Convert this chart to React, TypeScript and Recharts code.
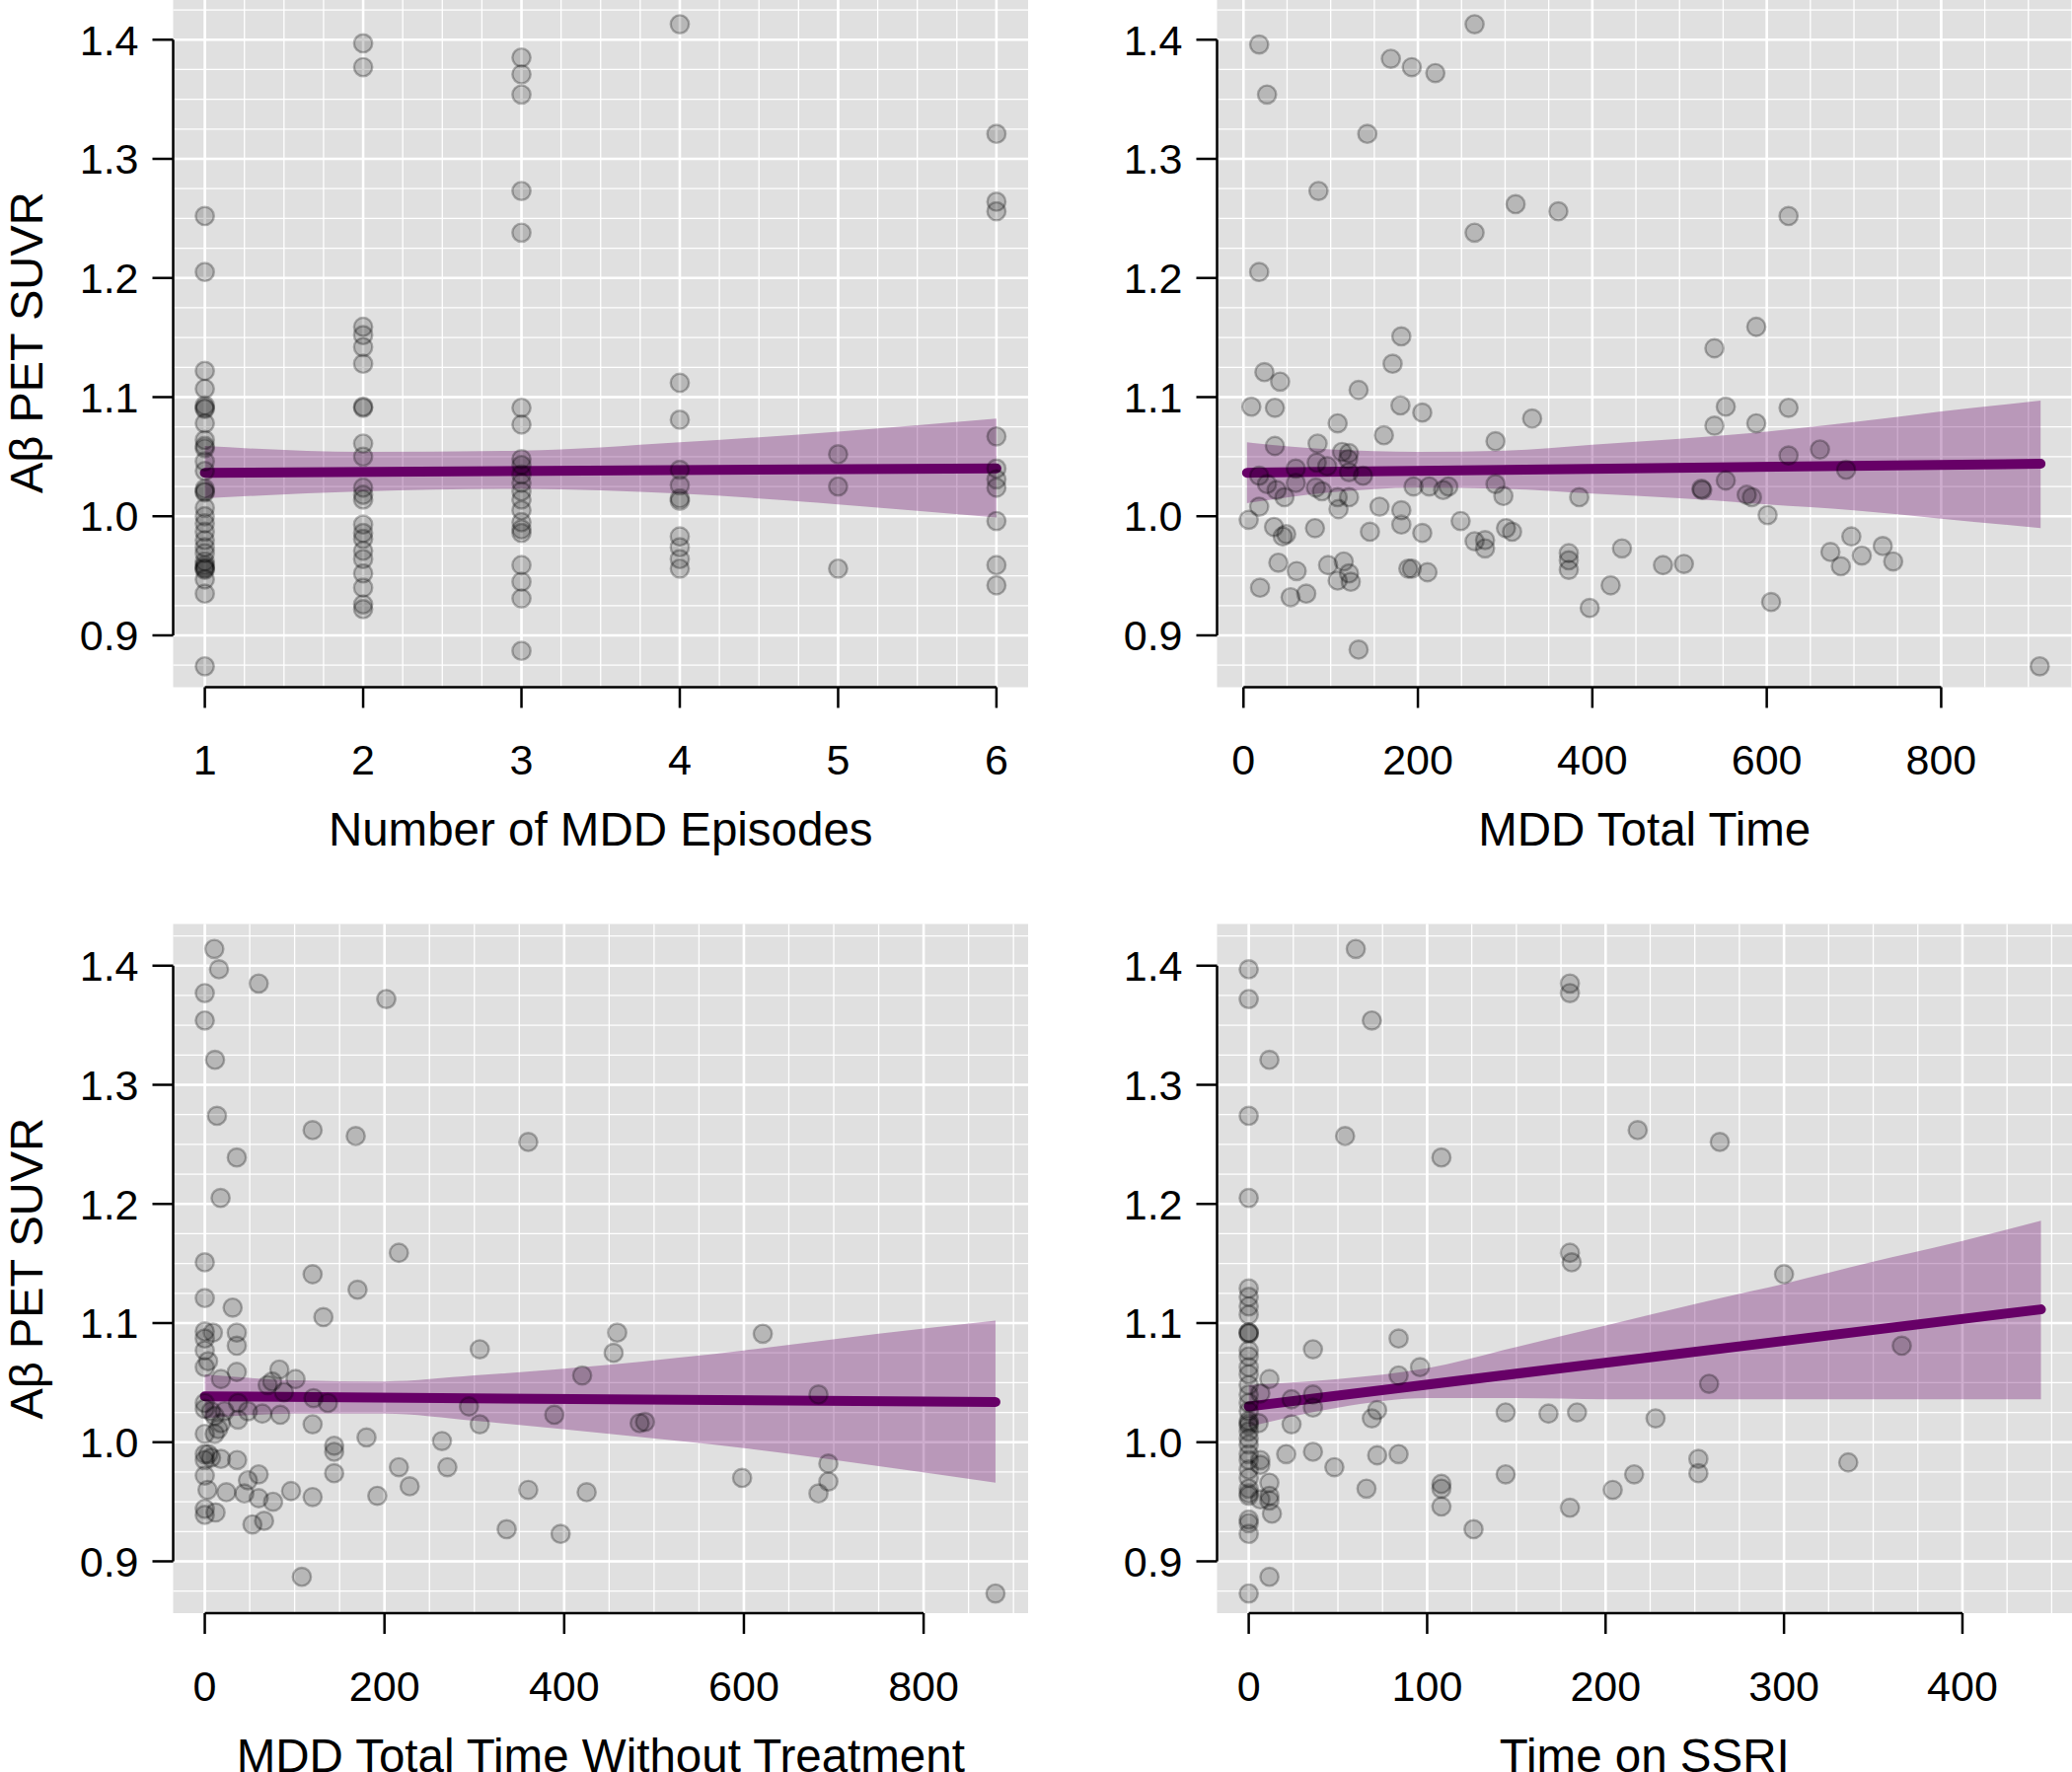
import {
  Area,
  CartesianGrid,
  ComposedChart,
  Label,
  Line,
  ReferenceLine,
  Scatter,
  XAxis,
  YAxis,
} from "recharts";

const FONT = '"Liberation Sans", Arial, Helvetica, sans-serif';
const PURPLE = "#670067";
const PANEL_BG = "#e0e0e0";

// shared y axis (Aβ PET SUVR)
const suvrTicks = [0.9, 1.0, 1.1, 1.2, 1.3, 1.4];
const suvrDomain: [number, number] = [0.8565, 1.435];

// --- Number of MDD Episodes ---
const episodeLevels = [1, 2, 3, 4, 5, 6];
const episodeSuvr = [
  [1.252, 1.205, 1.122, 1.107, 1.093, 1.091, 1.09, 1.078, 1.064, 1.059, 1.057, 1.046, 1.038, 1.023, 1.021, 1.02,
    1.007, 1.0, 0.994, 0.987, 0.98, 0.974, 0.969, 0.962, 0.959, 0.957, 0.956, 0.955, 0.947, 0.935, 0.874],
  [1.397, 1.377, 1.159, 1.152, 1.142, 1.128, 1.092, 1.091, 1.061, 1.05, 1.024, 1.018, 1.014, 0.993, 0.986, 0.981,
    0.971, 0.964, 0.952, 0.94, 0.926, 0.922],
  [1.385, 1.371, 1.354, 1.273, 1.238, 1.091, 1.077, 1.048, 1.043, 1.035, 1.028, 1.021, 1.014, 1.005, 0.995, 0.989,
    0.986, 0.959, 0.945, 0.931, 0.887],
  [1.413, 1.112, 1.081, 1.039, 1.026, 1.015, 1.013, 0.983, 0.974, 0.964, 0.956],
  [1.052, 1.025, 0.956],
  [1.321, 1.264, 1.256, 1.067, 1.04, 1.031, 1.024, 0.996, 0.959, 0.942],
];
const episodeFit = [[1, 1.0364], [6, 1.0402]];
const episodeBand = [
  [1, 1.015, 1.059], [2, 1.021, 1.054], [3, 1.023, 1.055], [4, 1.019, 1.062], [5, 1.01, 1.071], [6, 0.999, 1.082],
];

// --- MDD Total Time ---
const totalTimePts = [
  [265, 1.413], [18, 1.396], [169, 1.384], [193, 1.377], [220, 1.372], [27, 1.354], [142, 1.321], [86, 1.273],
  [312, 1.262], [361, 1.256], [265, 1.238], [18, 1.205], [181, 1.151], [171, 1.128], [24, 1.121], [42, 1.113],
  [132, 1.106], [9, 1.092], [36, 1.091], [180, 1.093], [205, 1.087], [108, 1.078], [331, 1.082], [161, 1.068],
  [289, 1.063], [36, 1.059], [85, 1.061], [113, 1.054], [121, 1.053], [120, 1.048], [60, 1.04], [84, 1.045],
  [96, 1.042], [121, 1.037], [137, 1.034], [18, 1.034], [27, 1.027], [38, 1.022], [47, 1.016], [60, 1.028],
  [83, 1.024], [90, 1.021], [108, 1.016], [121, 1.016], [195, 1.025], [213, 1.025], [229, 1.022], [235, 1.025],
  [289, 1.027], [298, 1.017], [385, 1.016], [526, 1.022], [18, 1.008], [6, 0.997], [109, 1.006], [156, 1.008],
  [181, 1.005], [181, 0.993], [35, 0.991], [49, 0.985], [45, 0.983], [82, 0.99], [145, 0.987], [205, 0.986],
  [249, 0.996], [265, 0.979], [277, 0.98], [277, 0.973], [301, 0.99], [308, 0.987], [373, 0.969], [373, 0.963],
  [373, 0.955], [434, 0.973], [481, 0.959], [505, 0.96], [40, 0.961], [61, 0.954], [97, 0.959], [115, 0.962],
  [108, 0.946], [121, 0.952], [123, 0.945], [189, 0.956], [193, 0.956], [211, 0.953], [19, 0.94], [54, 0.932],
  [72, 0.935], [421, 0.942], [397, 0.923], [132, 0.888], [625, 1.252], [588, 1.159], [540, 1.141], [553, 1.092],
  [625, 1.091], [540, 1.076], [588, 1.078], [625, 1.051], [661, 1.056], [691, 1.039], [525, 1.023], [553, 1.03],
  [577, 1.018], [583, 1.016], [601, 1.001], [697, 0.983], [673, 0.97], [685, 0.958], [709, 0.967], [733, 0.975],
  [745, 0.962], [605, 0.928], [913, 0.874],
];
const totalTimeFit = [[4, 1.0365], [914, 1.044]];
const totalTimeBand = [
  [4, 1.011, 1.062], [100, 1.02, 1.056], [200, 1.024, 1.054], [300, 1.023, 1.055], [400, 1.019, 1.06],
  [500, 1.015, 1.065], [600, 1.01, 1.071], [700, 1.005, 1.079], [800, 0.998, 1.088], [914, 0.99, 1.097],
];

// --- MDD Total Time Without Treatment ---
const untreatedPts = [
  [10.6, 1.414], [15.8, 1.397], [60, 1.385], [0, 1.377], [0, 1.354], [202, 1.372], [11.4, 1.321], [13.6, 1.274],
  [120, 1.262], [168, 1.257], [360, 1.252], [35.6, 1.239], [17.6, 1.205], [0, 1.151], [216, 1.159], [120, 1.141],
  [170, 1.128], [0, 1.121], [31, 1.113], [132, 1.105], [0, 1.093], [9, 1.092], [35.6, 1.092], [0, 1.087],
  [35.6, 1.081], [0, 1.077], [3.7, 1.068], [0, 1.063], [306, 1.078], [420, 1.056], [18, 1.053], [35.6, 1.059],
  [83, 1.061], [101, 1.053], [70, 1.048], [75, 1.051], [88, 1.042], [121, 1.037], [137, 1.033], [0, 1.033],
  [0, 1.028], [7, 1.026], [11, 1.022], [18, 1.016], [22, 1.026], [37, 1.019], [48, 1.026], [64, 1.024],
  [84, 1.023], [37, 1.033], [120, 1.015], [294, 1.03], [306, 1.015], [389, 1.023], [0, 1.007], [11, 1.007],
  [15, 1.011], [0, 0.99], [0, 0.985], [4, 0.99], [7, 0.987], [18, 0.986], [36, 0.985], [144, 0.997],
  [144, 0.992], [180, 1.004], [264, 1.001], [0, 0.972], [48, 0.968], [60, 0.973], [144, 0.974], [216, 0.979],
  [270, 0.979], [3, 0.96], [24, 0.958], [44, 0.957], [60, 0.953], [76, 0.95], [96, 0.959], [120, 0.954],
  [192, 0.955], [228, 0.963], [360, 0.96], [425, 0.958], [0, 0.944], [0, 0.939], [12, 0.941], [53, 0.931],
  [66, 0.934], [336, 0.927], [396, 0.923], [108, 0.887], [459, 1.092], [455, 1.075], [621, 1.091], [484, 1.016],
  [490, 1.017], [683, 1.04], [598, 0.97], [694, 0.982], [694, 0.967], [683, 0.957], [880, 0.873],
];
const untreatedFit = [[0, 1.0385], [880, 1.0337]];
const untreatedBand = [
  [0, 1.02, 1.057], [100, 1.024, 1.052], [200, 1.024, 1.051], [300, 1.018, 1.056], [450, 1.007, 1.065],
  [600, 0.995, 1.077], [750, 0.98, 1.091], [880, 0.966, 1.102],
];

// --- Time on SSRI ---
const ssriZeroSuvr = [
  1.397, 1.372, 1.274, 1.205, 1.129, 1.122, 1.114, 1.107, 1.092, 1.092, 1.091, 1.077, 1.072, 1.063, 1.057, 1.048,
  1.04, 1.033, 1.026, 1.018, 1.016, 1.014, 1.009, 1.003, 0.998, 0.99, 0.985, 0.977, 0.97, 0.961, 0.957, 0.955,
  0.935, 0.932, 0.923, 0.873,
];
const ssriPts = [
  [60, 1.414], [69, 1.354], [11.6, 1.321], [54, 1.257], [108, 1.239], [11.6, 0.887], [11.6, 1.053], [6.5, 1.041],
  [5.5, 1.016], [6.5, 0.985], [6.5, 0.981], [11.6, 0.966], [11.6, 0.955], [11.6, 0.951], [13, 0.94], [6.5, 0.952],
  [24, 1.036], [24, 1.015], [21, 0.99], [36, 1.078], [36, 1.04], [36, 1.029], [36, 0.992], [48, 0.979],
  [66, 0.961], [69, 1.02], [72, 1.027], [72, 0.989], [84, 1.087], [84, 1.056], [96, 1.063], [84, 0.99],
  [108, 0.965], [108, 0.961], [108, 0.946], [126, 0.927], [144, 1.025], [144, 0.973], [180, 1.385], [180, 1.377],
  [218, 1.262], [264, 1.252], [180, 1.159], [181, 1.151], [300, 1.141], [366, 1.081], [258, 1.049], [168, 1.024],
  [184, 1.025], [228, 1.02], [252, 0.986], [252, 0.974], [336, 0.983], [204, 0.96], [216, 0.973], [180, 0.945],
];
const ssriFit = [[0, 1.03], [444, 1.1115]];
const ssriBand = [
  [0, 1.013, 1.048], [50, 1.029, 1.053], [100, 1.037, 1.062], [150, 1.037, 1.08], [200, 1.036, 1.098],
  [250, 1.036, 1.116], [300, 1.036, 1.133], [350, 1.036, 1.1515], [400, 1.036, 1.169], [444, 1.036, 1.186],
];

const steps = (from: number, to: number, step: number) => {
  const out: number[] = [];
  for (let v = from; v <= to + 1e-9; v += step) out.push(Math.round(v * 1000) / 1000);
  return out;
};

const yMinor = steps(0.875, 1.425, 0.025);

const toPts = (pairs: number[][]) => pairs.map(([x, y]) => ({ x, y }));
const toBand = (rows: number[][]) => rows.map(([x, lo, hi]) => ({ x, range: [lo, hi] }));

const PointShape = (props: any) => (
  <circle
    cx={props.cx}
    cy={props.cy}
    r={9.2}
    fill="#000"
    fillOpacity={0.18}
    stroke="#000"
    strokeOpacity={0.27}
    strokeWidth={2.4}
  />
);

type PanelProps = {
  left: number;
  top: number;
  height: number;
  marginTop: number;
  marginRight: number;
  yAxisWidth: number;
  xAxisHeight: number;
  xDomain: [number, number];
  xTicks: number[];
  xMinorStep: number;
  points: { x: number; y: number }[];
  fit: number[][];
  band: number[][];
  title: string;
  showYTitle: boolean;
};

const Panel = (p: PanelProps) => {
  const xMinor = steps(p.xTicks[0], p.xDomain[1], p.xMinorStep);
  const lastTick = p.xTicks[p.xTicks.length - 1];
  const tickStyle = { fontSize: 43, fill: "#000", fontFamily: FONT };
  return (
    <div style={{ position: "absolute", left: p.left, top: p.top }}>
      <ComposedChart
        width={1050}
        height={p.height}
        margin={{ top: p.marginTop, right: p.marginRight, bottom: 0, left: 0 }}
      >
        <CartesianGrid
          horizontalValues={yMinor}
          verticalValues={xMinor}
          stroke="#fff"
          strokeWidth={1.3}
          fill={PANEL_BG}
          fillOpacity={1}
        />
        <CartesianGrid horizontalValues={suvrTicks} verticalValues={p.xTicks} stroke="#fff" strokeWidth={2.6} />
        <XAxis
          type="number"
          dataKey="x"
          domain={p.xDomain}
          ticks={p.xTicks}
          allowDataOverflow
          interval={0}
          height={p.xAxisHeight}
          axisLine={false}
          tickLine={{ stroke: "#000", strokeWidth: 2.5 }}
          tickSize={21}
          tickMargin={37}
          tick={tickStyle}
        >
          <Label value={p.title} position="insideTop" offset={127} fontSize={47.5} fill="#000" fontFamily={FONT} />
        </XAxis>
        <YAxis
          type="number"
          dataKey="y"
          domain={suvrDomain}
          ticks={suvrTicks}
          allowDataOverflow
          interval={0}
          width={p.yAxisWidth}
          axisLine={false}
          tickLine={{ stroke: "#000", strokeWidth: 2.5 }}
          tickSize={21}
          tickMargin={14}
          tick={tickStyle}
          tickFormatter={(v: number) => v.toFixed(1)}
        >
          {p.showYTitle && (
            <Label
              content={(lp: any) => {
                const vb = lp.viewBox || { y: 0, height: 0 };
                const cy = vb.y + vb.height / 2;
                return (
                  <text
                    x={43}
                    y={cy}
                    transform={`rotate(-90 43 ${cy})`}
                    textAnchor="middle"
                    fontSize={47}
                    fontFamily={FONT}
                    fill="#000"
                  >
                    Aβ PET SUVR
                  </text>
                );
              }}
            />
          )}
        </YAxis>
        <Scatter data={p.points} shape={PointShape} isAnimationActive={false} />
        <Area
          data={toBand(p.band)}
          dataKey="range"
          type="monotone"
          stroke="none"
          fill={PURPLE}
          fillOpacity={0.32}
          isAnimationActive={false}
        />
        <Line
          data={toPts(p.fit)}
          dataKey="y"
          stroke={PURPLE}
          strokeWidth={10}
          strokeLinecap="round"
          dot={false}
          isAnimationActive={false}
        />
        <ReferenceLine
          segment={[{ x: p.xTicks[0], y: suvrDomain[0] }, { x: lastTick, y: suvrDomain[0] }]}
          stroke="#000"
          strokeWidth={2.5}
          ifOverflow="visible"
        />
        <ReferenceLine
          segment={[{ x: p.xDomain[0], y: 0.9 }, { x: p.xDomain[0], y: 1.4 }]}
          stroke="#000"
          strokeWidth={2.5}
          ifOverflow="visible"
        />
      </ComposedChart>
    </div>
  );
};

const episodePts = episodeLevels.flatMap((lvl, i) => episodeSuvr[i].map((y) => ({ x: lvl, y })));
const ssriAllPts = [...ssriZeroSuvr.map((y) => ({ x: 0, y })), ...toPts(ssriPts)];

export default function App() {
  return (
    <div
      style={{
        position: "absolute",
        left: 0,
        top: 0,
        width: 2100,
        height: 1796,
        overflow: "hidden",
        background: "#fff",
      }}
    >
      <Panel
        left={0}
        top={-2}
        height={900}
        marginTop={0}
        marginRight={8}
        yAxisWidth={175.5}
        xAxisHeight={201.5}
        xDomain={[0.8, 6.2]}
        xTicks={[1, 2, 3, 4, 5, 6]}
        xMinorStep={0.25}
        points={episodePts}
        fit={episodeFit}
        band={episodeBand}
        title="Number of MDD Episodes"
        showYTitle
      />
      <Panel
        left={1050}
        top={-2}
        height={900}
        marginTop={0}
        marginRight={0}
        yAxisWidth={183.5}
        xAxisHeight={201.5}
        xDomain={[-30.3, 950]}
        xTicks={[0, 200, 400, 600, 800]}
        xMinorStep={50}
        points={toPts(totalTimePts)}
        fit={totalTimeFit}
        band={totalTimeBand}
        title="MDD Total Time"
        showYTitle={false}
      />
      <Panel
        left={0}
        top={935}
        height={861}
        marginTop={1.5}
        marginRight={8}
        yAxisWidth={175.5}
        xAxisHeight={161}
        xDomain={[-35.2, 916.3]}
        xTicks={[0, 200, 400, 600, 800]}
        xMinorStep={50}
        points={toPts(untreatedPts)}
        fit={untreatedFit}
        band={untreatedBand}
        title="MDD Total Time Without Treatment"
        showYTitle
      />
      <Panel
        left={1050}
        top={935}
        height={861}
        marginTop={1.5}
        marginRight={0}
        yAxisWidth={183.5}
        xAxisHeight={161}
        xDomain={[-17.75, 461.4]}
        xTicks={[0, 100, 200, 300, 400]}
        xMinorStep={25}
        points={ssriAllPts}
        fit={ssriFit}
        band={ssriBand}
        title="Time on SSRI"
        showYTitle={false}
      />
    </div>
  );
}
